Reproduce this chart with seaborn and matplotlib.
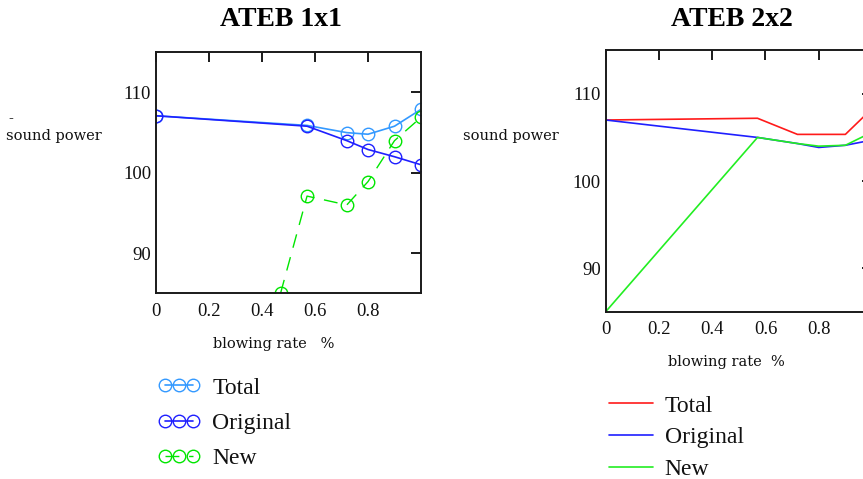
import matplotlib
matplotlib.use("Agg")
import matplotlib.pyplot as plt
import seaborn as sns
import pandas as pd

# ATEB 1x1 (values with markers)
x_1x1 = [0.0, 0.57, 0.72, 0.8, 0.9, 1.0]
total_1x1 = [107.1, 105.9, 105.0, 104.8, 105.8, 107.9]
original_1x1 = [107.1, 105.8, 104.0, 102.9, 102.0, 101.0]
x_new_1x1 = [0.47, 0.57, 0.72, 0.8, 0.9, 1.0]
new_1x1 = [85.0, 97.1, 96.0, 98.9, 104.0, 106.9]

# ATEB 2x2 (plain lines)
x_2x2 = [0.0, 0.57, 0.72, 0.8, 0.9, 1.0]
total_2x2 = [107.0, 107.2, 105.35, 105.35, 105.35, 108.3]
original_2x2 = [107.0, 105.0, 104.3, 103.85, 104.1, 104.7]
new_2x2 = [85.0, 105.0, 104.3, 104.0, 104.1, 105.6]

series_labels = ["Total", "Original", "New"]
x_ticks = [0.0, 0.2, 0.4, 0.6, 0.8]
x_tick_labels = ["0", "0.2", "0.4", "0.6", "0.8"]
y_ticks = [90, 100, 110]

sns.set_theme(style="white")
plt.rcParams["font.family"] = ["Liberation Serif", "DejaVu Serif"]
plt.rcParams["text.color"] = "black"

W, H = 863, 479
fig = plt.figure(figsize=(W / 100, H / 100), dpi=100)


def px_axes(left, top, right, bottom):
    return fig.add_axes([left / W, 1 - bottom / H, (right - left) / W, (bottom - top) / H])


ax1 = px_axes(156, 52.3, 421, 293.3)
ax2 = px_axes(605.7, 50.3, 872, 311.7)

c_total1 = "#3399ff"
c_orig = "#1f1fff"
c_new = "#00e600"
c_red = "#ff1a1a"

mk = dict(marker="o", markersize=9, markerfacecolor="none", markeredgewidth=1.0)

df1 = pd.DataFrame({"x": x_1x1, "total": total_1x1, "original": original_1x1})
dfn = pd.DataFrame({"x": x_new_1x1, "new": new_1x1})

sns.lineplot(data=df1, x="x", y="total", ax=ax1, color=c_total1, lw=1.2,
             markeredgecolor=c_total1, label=series_labels[0], **mk)
sns.lineplot(data=df1, x="x", y="original", ax=ax1, color=c_orig, lw=1.2,
             markeredgecolor=c_orig, label=series_labels[1], **mk)
sns.lineplot(data=dfn, x="x", y="new", ax=ax1, color=c_new, lw=1.0,
             linestyle=(0, (10, 7)), markeredgecolor=c_new, label=series_labels[2], **mk)

df2 = pd.DataFrame({"x": x_2x2, "total": total_2x2, "original": original_2x2, "new": new_2x2})
sns.lineplot(data=df2, x="x", y="total", ax=ax2, color=c_red, lw=1.2, label=series_labels[0])
sns.lineplot(data=df2, x="x", y="original", ax=ax2, color="#1f1fff", lw=1.2, label=series_labels[1])
sns.lineplot(data=df2, x="x", y="new", ax=ax2, color="#22ee22", lw=1.2, label=series_labels[2])

for ax in (ax1, ax2):
    ax.set_xlim(0, 1.0)
    ax.set_ylim(85, 115)
    ax.set_xticks(x_ticks)
    ax.set_xticklabels(x_tick_labels)
    ax.set_yticks(y_ticks)
    ax.set_xlabel("")
    ax.set_ylabel("")
    ax.tick_params(direction="in", length=7.5, width=1.4, color="#1a1a1a",
                   top=True, right=True, labelsize=13.5, labelcolor="#111111")
    ax.tick_params(axis="x", pad=7)
    ax.tick_params(axis="y", pad=3.5)
    for s in ax.spines.values():
        s.set_color("#1a1a1a")
        s.set_linewidth(1.4)
        s.set_visible(True)
    ax.set_facecolor("white")

leg_kw = dict(frameon=False, fontsize=17, handletextpad=0.5,
              borderpad=0, borderaxespad=0, loc="upper left",
              bbox_transform=fig.transFigure, labelcolor="#111111")
ax1.legend(bbox_to_anchor=(158 / W, 1 - 377 / H), handlelength=1.8, numpoints=3,
           labelspacing=0.59, **leg_kw)
ax2.legend(bbox_to_anchor=(609 / W, 1 - 395 / H), handlelength=1.86, numpoints=1,
           labelspacing=0.43, **leg_kw)

# titles and axis captions
fig.text(281 / W, 1 - 20 / H, "ATEB 1x1", ha="center", va="center",
         fontsize=20, fontweight="bold", color="black")
fig.text(732 / W, 1 - 19 / H, "ATEB 2x2", ha="center", va="center",
         fontsize=20, fontweight="bold", color="black")

small = dict(fontsize=10.5, family=["DejaVu Serif"], color="#111111")
fig.text(6 / W, 1 - 136 / H, "sound power", ha="left", va="center", **small)
fig.text(8 / W, 1 - 119 / H, "-", ha="left", va="center", **small)
fig.text(463 / W, 1 - 136 / H, "sound power", ha="left", va="center", **small)
fig.text(274 / W, 1 - 344 / H, "blowing rate   %", ha="center", va="center", **small)
fig.text(726 / W, 1 - 362 / H, "blowing rate  %", ha="center", va="center", **small)

fig.savefig("out.png", dpi=100, facecolor="white")
